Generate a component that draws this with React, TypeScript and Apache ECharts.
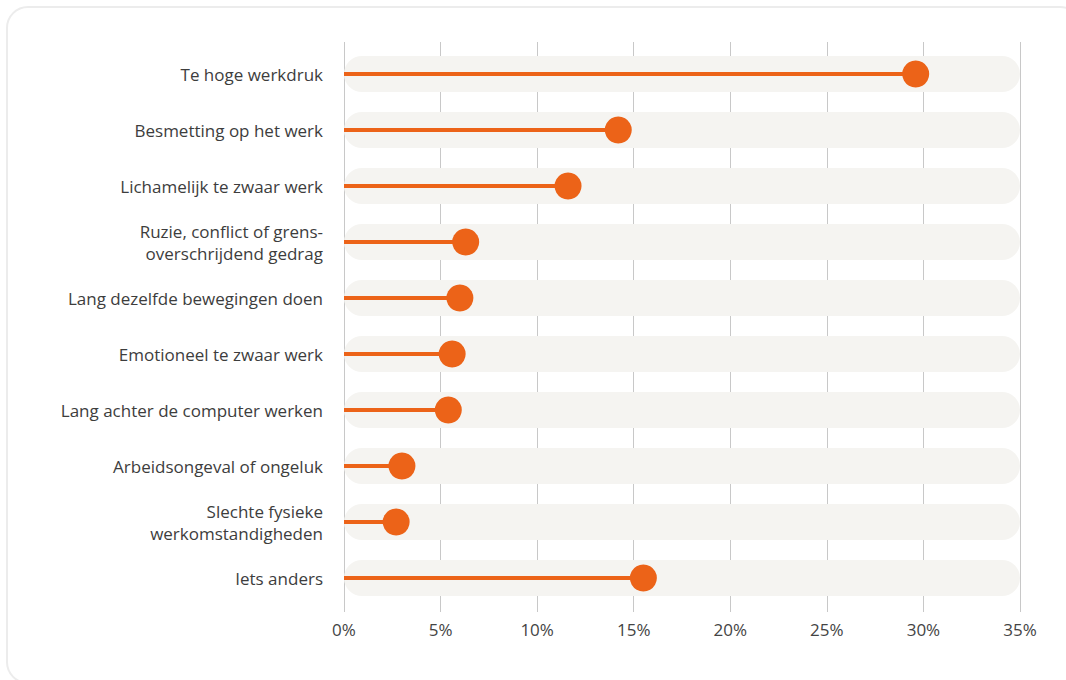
import React, { useEffect, useRef } from "react";
import * as echarts from "echarts";

const categories = [
  "Te hoge werkdruk",
  "Besmetting op het werk",
  "Lichamelijk te zwaar werk",
  "Ruzie, conflict of grens-\noverschrijdend gedrag",
  "Lang dezelfde bewegingen doen",
  "Emotioneel te zwaar werk",
  "Lang achter de computer werken",
  "Arbeidsongeval of ongeluk",
  "Slechte fysieke\nwerkomstandigheden",
  "Iets anders",
];
const values = [29.6, 14.2, 11.6, 6.3, 6.0, 5.6, 5.4, 3.0, 2.7, 15.5];
const axisMax = 35;
const tickStep = 5;

const ORANGE = "#ec6318";
const FONT = "Open Sans";

export default function App() {
  const ref = useRef<HTMLDivElement>(null);
  useEffect(() => {
    if (!ref.current) return;
    const chart = echarts.init(ref.current, undefined, { renderer: "svg" });
    const bg = categories.map(() => axisMax);
    chart.setOption({
      animation: false,
      grid: { left: 344, right: 46, top: 46, bottom: 74, containLabel: false },
      xAxis: [
        {
          type: "value",
          min: 0,
          max: axisMax,
          interval: tickStep,
          position: "bottom",
          axisLine: { show: false },
          axisTick: { show: true, length: 6, lineStyle: { color: "#c8c8c8", width: 1 } },
          splitLine: { show: true, lineStyle: { color: "#c8c8c8", width: 1 } },
          axisLabel: {
            formatter: "{value}%",
            color: "#444444",
            fontSize: 17,
            fontFamily: FONT,
            margin: 15,
          },
        },
        {
          type: "value",
          min: 0,
          max: axisMax,
          interval: tickStep,
          position: "top",
          axisLine: { show: false },
          axisTick: { show: true, length: 4, lineStyle: { color: "#c8c8c8", width: 1 } },
          splitLine: { show: false },
          axisLabel: { show: false },
        },
      ],
      yAxis: [
        {
          type: "category",
          data: categories,
          inverse: true,
          axisLine: { show: false },
          axisTick: { show: false },
          axisLabel: {
            color: "#3d3d3d",
            fontSize: 17,
            fontFamily: FONT,
            margin: 21,
            lineHeight: 22,
            align: "right",
          },
        },
        {
          type: "category",
          data: categories,
          inverse: true,
          show: false,
        },
      ],
      series: [
        {
          type: "bar",
          yAxisIndex: 1,
          xAxisIndex: 0,
          data: bg,
          barWidth: 36,
          itemStyle: { color: "#f5f4f1", borderRadius: 18 },
          silent: true,
          z: 1,
        },
        {
          type: "bar",
          yAxisIndex: 0,
          xAxisIndex: 0,
          data: values,
          barWidth: 4,
          itemStyle: { color: ORANGE },
          z: 3,
        },
        {
          type: "scatter",
          yAxisIndex: 0,
          xAxisIndex: 0,
          data: values.map((v, i) => [v, categories[i]]),
          symbolSize: 27,
          itemStyle: { color: ORANGE, opacity: 1 },
          z: 4,
        },
      ],
    });
    return () => chart.dispose();
  }, []);
  return (
    <div style={{ position: "fixed", left: 0, top: 0, width: 1066, height: 680, background: "#fff", overflow: "hidden" }}>
      <div
        style={{
          position: "absolute",
          left: 6,
          top: 6,
          width: 1076,
          height: 678,
          border: "2px solid #ececec",
          borderRadius: 22,
          boxSizing: "border-box",
        }}
      />
      <div ref={ref} style={{ position: "absolute", left: 0, top: 0, width: 1066, height: 680 }} />
    </div>
  );
}
